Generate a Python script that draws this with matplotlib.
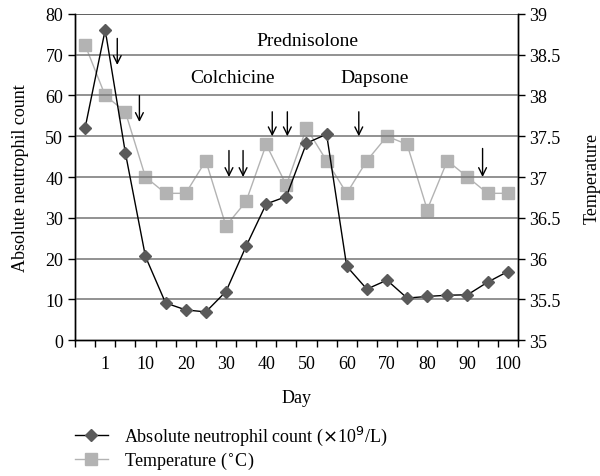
import matplotlib.pyplot as plt
import numpy as np

plt.rcParams['font.family'] = ['Liberation Serif', 'DejaVu Serif']

# x categories (Excel category axis, label every other point)
day_labels = ["", "1", "", "10", "", "20", "", "30", "", "40", "", "50",
              "", "60", "", "70", "", "80", "", "90", "", "100"]

# absolute neutrophil count (x10^9/L)
anc = [52.0, 76.1, 46.0, 20.5, 9.1, 7.4, 6.9, 11.9, 23.0, 33.4, 35.2,
       48.3, 50.5, 18.1, 12.5, 14.7, 10.3, 10.7, 11.0, 11.1, 14.2, 16.8]

# temperature (C)
temp = [38.62, 38.0, 37.8, 37.0, 36.8, 36.8, 37.2, 36.4, 36.7, 37.4, 36.9,
        37.6, 37.2, 36.8, 37.2, 37.5, 37.4, 36.6, 37.2, 37.0, 36.8, 36.8]

# treatment arrows: (category position, top of arrow, bottom of arrow) on ANC scale
arrow_x = [1.6, 2.7, 7.15, 7.85, 9.3, 10.05, 13.6, 19.75]
arrow_top = [74, 60, 46.5, 46.5, 56, 56, 56, 47]
arrow_bot = [67.5, 53.5, 40, 40, 50, 50, 50, 40]

drug_names = ["Prednisolone", "Colchicine", "Dapsone"]
drug_x = [11.05, 7.35, 14.4]
drug_y = [73.5, 64.5, 64.5]

x = np.arange(len(anc))
fs = 13

fig = plt.figure(figsize=(6, 4.77), dpi=100)
ax = fig.add_axes([0.125, 0.285, 0.738, 0.6836])
ax2 = ax.twinx()

# grid lines
for v in range(10, 90, 10):
    ax.axhline(v, color="#444444" if v == 80 else "#7f7f7f", lw=1.2, zorder=0)

ax2.plot(x, temp, color="#b3b3b3", lw=1.0, marker="s", markersize=9,
         markerfacecolor="#b3b3b3", markeredgecolor="#b3b3b3", zorder=2)
ax.plot(x, anc, color="black", lw=1.0, marker="D", markersize=6.5,
        markerfacecolor="#5a5a5a", markeredgecolor="#5a5a5a", zorder=3)

ax.set_zorder(ax2.get_zorder() + 1)
ax.patch.set_visible(False)

ax.set_xlim(-0.5, len(anc) - 0.5)
ax.set_ylim(0, 80)
ax2.set_ylim(35, 39)
ax.set_yticks(range(0, 90, 10))
ax2.set_yticks(np.arange(35, 39.01, 0.5))
ax2.set_yticklabels(["35", "35.5", "36", "36.5", "37", "37.5", "38", "38.5", "39"])

ax.set_xticks(x)
ax.set_xticklabels(day_labels)
ax.set_xticks(np.arange(-0.5, len(anc), 1), minor=True)
ax.tick_params(axis="x", which="major", length=0, labelsize=fs, pad=11)
ax.tick_params(axis="x", which="minor", length=5, direction="out", width=1)
ax.tick_params(axis="y", length=5, width=1, labelsize=fs)
ax2.tick_params(axis="y", length=5, width=1, labelsize=fs)

for a in (ax, ax2):
    a.spines["top"].set_visible(False)
    for s in ("left", "right", "bottom"):
        a.spines[s].set_linewidth(1.0)

ax.set_ylabel("Absolute neutrophil count", fontsize=fs, labelpad=12)
ax2.set_ylabel("Temperature", fontsize=fs, labelpad=16)
ax.set_xlabel("Day", fontsize=fs, labelpad=12)

for xi, yt, yb in zip(arrow_x, arrow_top, arrow_bot):
    ax.annotate("", xy=(xi, yb), xytext=(xi, yt),
                arrowprops=dict(arrowstyle="->", color="black", lw=1.0,
                                mutation_scale=14, shrinkA=0, shrinkB=0),
                zorder=4)

for name, dx, dy in zip(drug_names, drug_x, drug_y):
    ax.text(dx, dy, name, ha="center", va="center", fontsize=14)

h1, = ax.plot([], [], color="black", lw=1.0, marker="D", markersize=6.5,
              markerfacecolor="#5a5a5a", markeredgecolor="#5a5a5a")
h2, = ax.plot([], [], color="#b3b3b3", lw=1.0, marker="s", markersize=9,
              markerfacecolor="#b3b3b3", markeredgecolor="#b3b3b3")
fig.legend([h1, h2], ["Absolute neutrophil count ($\\times$10$^9$/L)",
                      "Temperature ($^{\\circ}$C)"],
           loc="upper left", bbox_to_anchor=(0.11, 0.128), frameon=False,
           fontsize=fs, handlelength=1.8, handletextpad=0.9,
           labelspacing=0.15, borderpad=0)

plt.savefig("out.png", dpi=100)
